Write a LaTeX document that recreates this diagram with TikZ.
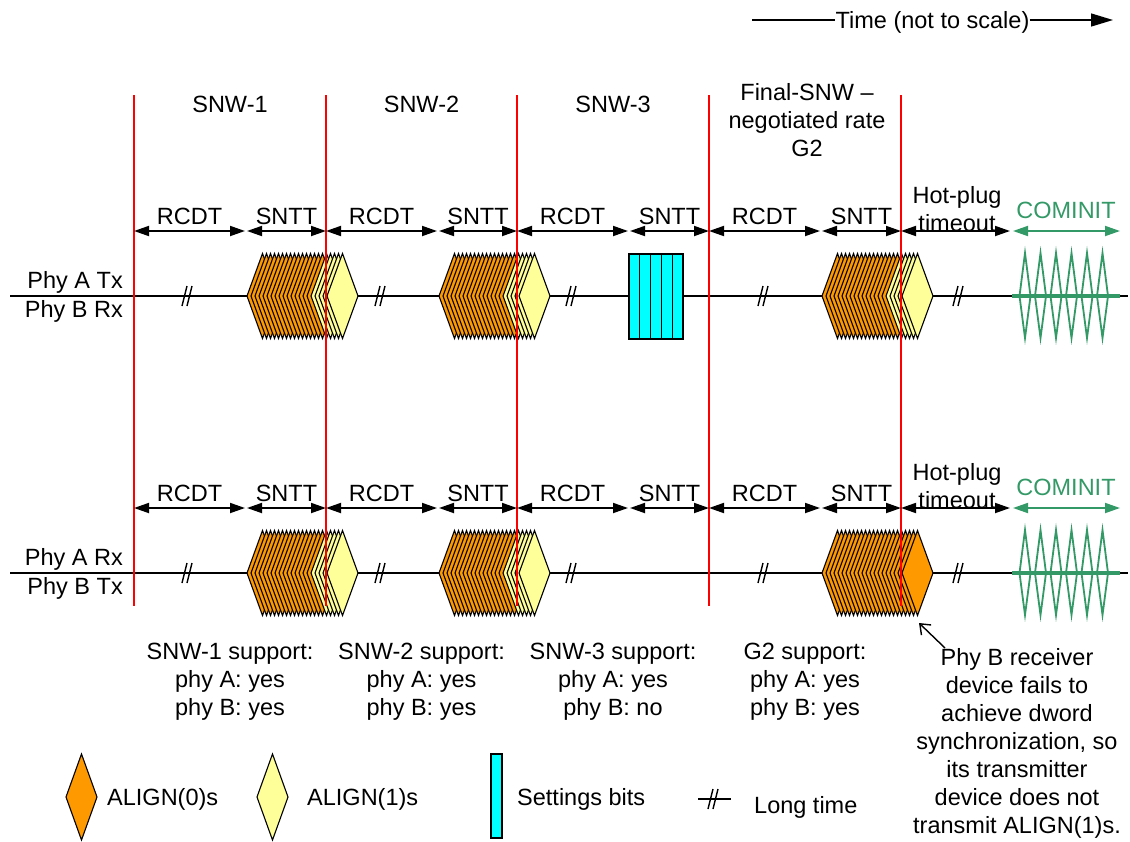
\documentclass[tikz,border=0pt]{standalone}
\usepackage{fontspec}
\setmainfont{Liberation Sans}
\usetikzlibrary{arrows.meta}
\definecolor{aorange}{RGB}{255,153,0}
\definecolor{ayellow}{RGB}{255,255,153}
\definecolor{scyan}{RGB}{0,255,255}
\definecolor{cgreen}{RGB}{51,153,102}
\newcommand{\ml}[1]{\begin{tabular}[t]{@{}c@{}}#1\end{tabular}}
\newcommand{\dstack}[3]{%
  \foreach \i in {0,...,20}{%
    \ifnum\i<#3\relax\def\dc{aorange}\else\def\dc{ayellow}\fi
    \filldraw[dia, fill=\dc] ({#1+4*\i},#2) -- ++(15.5,-42.5) -- ++(15.5,42.5) -- ++(-15.5,42.5) -- cycle;}}
\newcommand{\ltmark}[2]{%
  \draw[tline] ({#1-5},{#2+10}) -- ({#1},{#2-10});
  \draw[tline] ({#1},{#2+10}) -- ({#1+5},{#2-10});}
\newcommand{\cominitburst}[1]{%
  \draw[cgreen, line width=4pt] (1012,#1) -- (1120,#1);
  \foreach \p in {0,...,5}{%
    \draw[cgreen, line width=1.8pt, line join=miter]
      ({1025+15.5*\p-5.5},#1) -- ({1025+15.5*\p},{#1-43}) -- ({1025+15.5*\p+5.5},#1) -- ({1025+15.5*\p},{#1+42}) -- cycle;}}
\begin{document}
\begin{tikzpicture}[x=1pt,y=-1pt,
  every node/.style={inner sep=0pt, font=\fontsize{23.5}{28}\selectfont},
  lbl/.style={anchor=base},
  tline/.style={line width=1.4pt, black},
  redline/.style={red, line width=1.5pt},
  dia/.style={draw=black, line width=1.1pt, line join=miter},
  dim/.style={line width=1.8pt, {Triangle[length=15pt,width=10pt]}-{Triangle[length=15pt,width=10pt]}},
  gdim/.style={dim, cgreen}]
\useasboundingbox (0,0) rectangle (1130,841);

% time arrow
\node[lbl] (time) at (932.5,28) {Time (not to scale)};
\coordinate (tl) at (752,20);
\coordinate (tr) at (1113,20);
\draw[tline] (tl) -- (tl -| time.west);
\draw[tline, -{Triangle[length=22pt,width=13pt]}] (tr -| time.east) -- (tr);

% headers
\node[lbl] (h1) at (230,112) {SNW-1};
\node[lbl] (h2) at (421.5,112) {SNW-2};
\node[lbl] (h3) at (613,112) {SNW-3};
\node[lbl] (h4) at (807,100) {\ml{Final-SNW –\\negotiated rate\\G2}};

% main lines
\coordinate (l1a) at (10,296); \coordinate (l1b) at (1128,296);
\coordinate (l2a) at (10,573); \coordinate (l2b) at (1128,573);
\draw[tline] (l1a) -- (l1b);
\draw[tline] (l2a) -- (l2b);

% phy labels
\node[anchor=base east] (pat) at (123,288) {Phy A Tx};
\node[anchor=base east] (pbr) at (123,317) {Phy B Rx};
\node[anchor=base east] (par) at (123,565) {Phy A Rx};
\node[anchor=base east] (pbt) at (123,594) {Phy B Tx};

% long time marks
\foreach \x in {187,380,571,763,958}{\ltmark{\x}{296}\ltmark{\x}{573}}

% diamond stacks row 1
\dstack{247}{296}{16}
\dstack{439}{296}{16}
\dstack{822}{296}{16}
% settings bits
\foreach \i in {0,...,4}{\filldraw[dia, fill=scyan] ({629+10.8*\i},254) rectangle ++(10.8,85);}
% row 2
\dstack{247}{573}{16}
\dstack{439}{573}{16}
\dstack{822}{573}{21}

% COMINIT bursts
\cominitburst{296}
\cominitburst{573}

% red lines
\foreach \x/\n in {134/0,326/1,517/2,709/3,901/4}{
  \coordinate (rt\n) at (\x,95); \coordinate (rb\n) at (\x,606);
  \draw[redline] (rt\n) -- (rb\n);}

% dimension arrows
\foreach \y/\r in {231/1,508/2}{
  \foreach \a/\b/\n/\t in {134/245/1/RCDT,247/326/2/SNTT,326/437/3/RCDT,439/517/4/SNTT,517/628/5/RCDT,630/709/6/SNTT,709/820/7/RCDT,822/901/8/SNTT}{
    \coordinate (s\r\n) at (\a,\y); \coordinate (e\r\n) at (\b,\y);
    \draw[dim] (s\r\n) -- (e\r\n);
    \node[lbl] (t\r\n) at ({(\a+\b)/2},{\y-7}) {\t};}
  \coordinate (hs\r) at (901,\y); \coordinate (he\r) at (1010,\y);
  \draw[dim] (hs\r) -- (he\r);
  \node[lbl] (hp\r) at (957,{\y-28}) {\ml{Hot-plug\\timeout}};
  \coordinate (cs\r) at (1013,\y); \coordinate (ce\r) at (1120,\y);
  \draw[gdim] (cs\r) -- (ce\r);
  \node[lbl, text=cgreen] (cm\r) at (1066,{\y-13}) {COMINIT};
}

% support text
\node[lbl] (sup1) at (230,659) {\ml{SNW-1 support:\\phy A: yes\\phy B: yes}};
\node[lbl] (sup2) at (421.5,659) {\ml{SNW-2 support:\\phy A: yes\\phy B: yes}};
\node[lbl] (sup3) at (613,659) {\ml{SNW-3 support:\\phy A: yes\\phy B: no}};
\node[lbl] (sup4) at (805,659) {\ml{G2 support:\\phy A: yes\\phy B: yes}};

% annotation
\node[lbl] (note) at (1017,665) {\ml{Phy B receiver\\device fails to\\achieve dword\\synchronization, so\\its transmitter\\device does not\\transmit ALIGN(1)s.}};
\coordinate (tail) at (945,648);
\coordinate (tip) at (919,623);
\draw[tline, -{Straight Barb[length=9pt,width=14pt]}] (tail) -- (tip);

% legend
\filldraw[dia, fill=aorange] (66,797) -- ++(15.5,-43) -- ++(15.5,43) -- ++(-15.5,43) -- cycle;
\node[anchor=base west] (lg1) at (107,805) {ALIGN(0)s};
\filldraw[dia, fill=ayellow] (257,797) -- ++(15.5,-43) -- ++(15.5,43) -- ++(-15.5,43) -- cycle;
\node[anchor=base west] (lg2) at (307,805) {ALIGN(1)s};
\filldraw[dia, fill=scyan] (491,754) rectangle (502,838);
\node[anchor=base west] (lg3) at (517,805) {Settings bits};
\coordinate (la) at (698,799); \coordinate (lb) at (731,799);
\draw[tline] (la) -- (lb);
\ltmark{713}{799}
\node[anchor=base west] (lg4) at (754,813) {Long time};
\end{tikzpicture}
\end{document}
